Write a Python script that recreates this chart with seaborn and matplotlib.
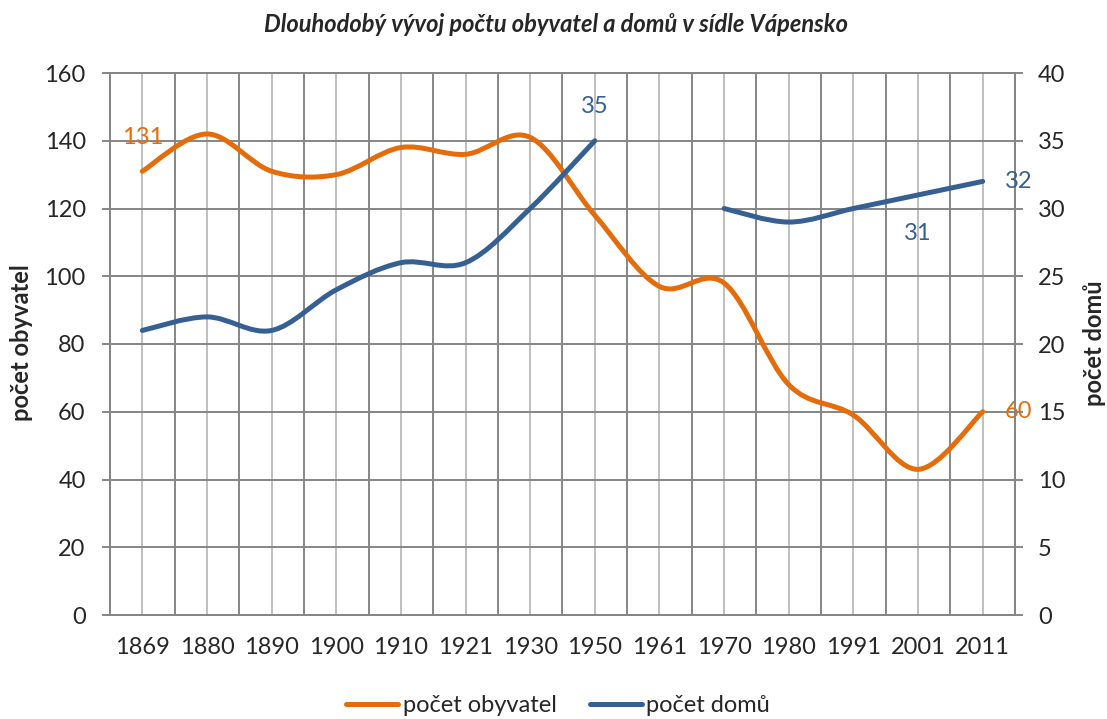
import numpy as np
import matplotlib
matplotlib.use("Agg")
import matplotlib.pyplot as plt
from matplotlib.path import Path
from matplotlib.patches import PathPatch
from matplotlib.lines import Line2D
from matplotlib.ticker import FixedLocator, MultipleLocator
import seaborn as sns

# data
years = ["1869", "1880", "1890", "1900", "1910", "1921", "1930",
         "1950", "1961", "1970", "1980", "1991", "2001", "2011"]
obyvatel = [131, 142, 131, 130, 138, 136, 141, 118, 97, 98, 68, 59, 43, 60]
domu = [21, 22, 21, 24, 26, 26, 30, 35, np.nan, 30, 29, 30, 31, 32]

ORANGE = "#E46C0A"
BLUE = "#376092"
GRID_DARK = "#868686"
GRID_LIGHT = "#BFBFBF"

sns.set_style("white")
plt.rcParams["font.family"] = ["Lato", "DejaVu Sans"]


def smooth_path(xs, ys):
    # Excel-like smoothed line: cubic Bezier through the points (Catmull-Rom)
    verts, codes = [], []
    pts = np.column_stack([xs, ys]).astype(float)
    runs, cur = [], []
    for p in pts:
        if np.isnan(p[1]):
            if cur:
                runs.append(cur)
            cur = []
        else:
            cur.append(p)
    if cur:
        runs.append(cur)
    for run in runs:
        run = np.array(run)
        n = len(run)
        verts.append(run[0]); codes.append(Path.MOVETO)
        for i in range(n - 1):
            p0 = run[i - 1] if i > 0 else run[i]
            p1, p2 = run[i], run[i + 1]
            p3 = run[i + 2] if i + 2 < n else run[i + 1]
            verts += [p1 + (p2 - p0) / 6, p2 - (p3 - p1) / 6, p2]
            codes += [Path.CURVE4] * 3
    return Path(verts, codes)


fig = plt.figure(figsize=(11.07, 7.19), dpi=100)
ax = fig.add_axes([110 / 1107, 1 - 615 / 719, 905 / 1107, 542 / 719])
ax2 = ax.twinx()

x = np.arange(len(years))
ax.set_xlim(-0.5, len(years) - 0.5)
ax.set_ylim(0, 160)
ax2.set_ylim(0, 40)

# grid: dark lines on category borders + horizontal, light lines in category centres
ax.xaxis.set_major_locator(FixedLocator(x))
ax.xaxis.set_minor_locator(FixedLocator(np.arange(-0.5, len(years), 1)))
ax.set_xticklabels(years)
ax.yaxis.set_major_locator(MultipleLocator(20))
ax2.yaxis.set_major_locator(MultipleLocator(5))
ax.grid(True, which="major", axis="x", color=GRID_LIGHT, lw=1.4)
ax.grid(True, which="minor", axis="x", color=GRID_DARK, lw=1.4)
ax.grid(True, which="major", axis="y", color=GRID_DARK, lw=1.4)
ax.set_axisbelow(True)

for a in (ax, ax2):
    for s in a.spines.values():
        s.set_color(GRID_DARK)
        s.set_linewidth(1.4)

ax.tick_params(axis="x", which="major", length=0, pad=16, labelsize=17)
ax.tick_params(axis="x", which="minor", length=5.5, width=1.4, color=GRID_DARK)
ax.tick_params(axis="y", length=5.5, width=1.4, color=GRID_DARK, pad=12, labelsize=17)
ax2.tick_params(axis="y", length=5.5, width=1.4, color=GRID_DARK, pad=11, labelsize=17)

# smoothed series
ax.add_patch(PathPatch(smooth_path(x, obyvatel), fill=False, edgecolor=ORANGE,
                       lw=3.6, capstyle="round", joinstyle="round"))
ax2.add_patch(PathPatch(smooth_path(x, domu), fill=False, edgecolor=BLUE,
                        lw=3.6, capstyle="round", joinstyle="round"))

# data labels
lab = dict(textcoords="offset pixels", ha="center", va="center", fontsize=17)
ax.annotate(str(obyvatel[0]), (x[0], obyvatel[0]), xytext=(0, 34), color=ORANGE, **lab)
ax.annotate(str(obyvatel[-1]), (x[-1], obyvatel[-1]), xytext=(36, 0), color=ORANGE, **lab)
ax2.annotate(str(domu[7]), (x[7], domu[7]), xytext=(0, 34), color=BLUE, **lab)
ax2.annotate(str(domu[12]), (x[12], domu[12]), xytext=(0, -39), color=BLUE, **lab)
ax2.annotate(str(domu[-1]), (x[-1], domu[-1]), xytext=(36, 0), color=BLUE, **lab)

fig.text(555.5 / 1107, 1 - 25 / 719, "Dlouhodobý vývoj počtu obyvatel a domů v sídle Vápensko",
         ha="center", va="center", fontsize=17, fontweight="bold", style="italic")
fig.text(22 / 1107, 1 - 343 / 719, "počet obyvatel", rotation=90, ha="center", va="center",
         fontsize=17, fontweight="bold")
fig.text(1094 / 1107, 1 - 343 / 719, "počet domů", rotation=90, ha="center", va="center",
         fontsize=17, fontweight="bold")

handles = [Line2D([], [], color=ORANGE, lw=3.6, solid_capstyle="round"),
           Line2D([], [], color=BLUE, lw=3.6, solid_capstyle="round")]
fig.legend(handles, ["počet obyvatel", "počet domů"], loc="center",
           bbox_to_anchor=(558 / 1107, 1 - 706 / 719), ncol=2, frameon=False,
           fontsize=17, handlelength=2.2, handletextpad=0.2, columnspacing=1.4)

fig.savefig("out.png", dpi=100)
